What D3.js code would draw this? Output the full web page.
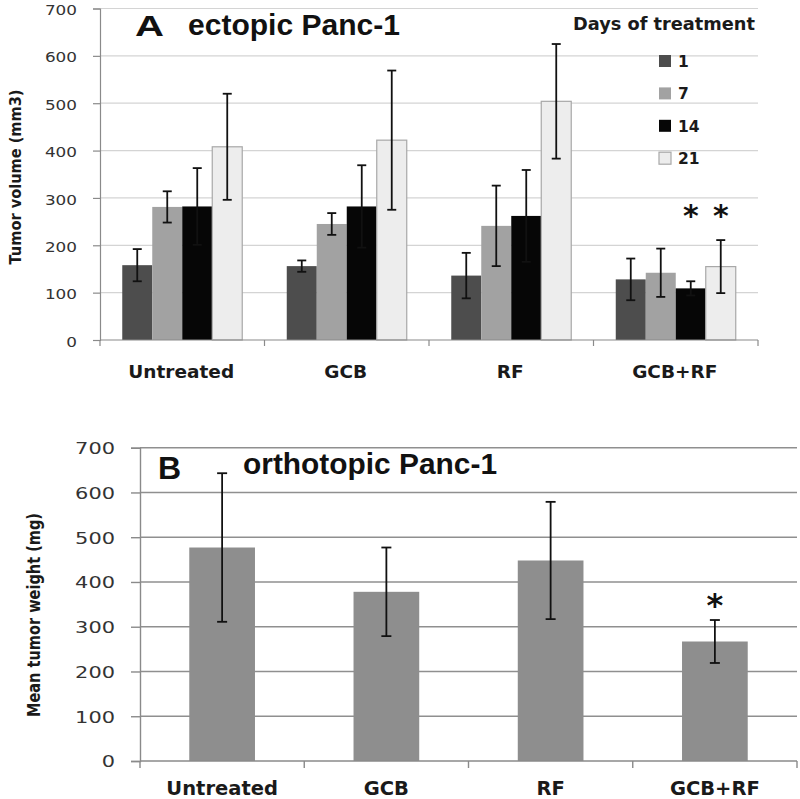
<!DOCTYPE html>
<html>
<head>
<meta charset="utf-8">
<script src="https://cdn.jsdelivr.net/npm/d3@7"></script>
<style>
  html, body { margin: 0; padding: 0; background: #fff; }
  svg { display: block; }
</style>
</head>
<body>
<svg id="chart" width="800" height="799"></svg>
<script>
// ---------- DATA ----------
const categories = ["Untreated", "GCB", "RF", "GCB+RF"];
const days = ["1", "7", "14", "21"];
const volDay1  = [158, 156, 136, 128];
const errDay1  = [34, 12, 48, 44];
const volDay7  = [281, 245, 241, 142];
const errDay7  = [33, 23, 85, 51];
const volDay14 = [282, 282, 262, 109];
const errDay14 = [81, 87, 97, 15];
const volDay21 = [408, 422, 504, 155];
const errDay21 = [112, 147, 121, 56];
const weightMean = [477, 378, 448, 267];
const weightErr  = [166, 99, 131, 48];
const yTickValues = [0, 100, 200, 300, 400, 500, 600, 700];
const sigA = [{ cat: "GCB+RF", day: "14" }, { cat: "GCB+RF", day: "21" }];
const sigALevel = 272;
const sigB = ["GCB+RF"];
const sigBLevel = 362;

const volSeries = [volDay1, volDay7, volDay14, volDay21];
const errSeries = [errDay1, errDay7, errDay14, errDay21];
const dayColors = { "1": "#4d4d4d", "7": "#a2a2a2", "14": "#060606", "21": "#ededed" };
const dayStroke = { "1": "none", "7": "none", "14": "none", "21": "#a8a8a8" };

const svg = d3.select("#chart");
const tickFont = "'DejaVu Sans', Verdana, sans-serif";
const boldFont = "'DejaVu Sans', Verdana, sans-serif";
const arialFont = "'Liberation Sans', Arial, sans-serif";

// ---------- PANEL A ----------
{
  const left = 100, right = 758, top = 8.5, bottom = 340;
  const y = d3.scaleLinear().domain([0, 700]).range([bottom, top]);
  const xb = d3.scaleBand().domain(categories).range([left, right]).padding(0);
  const x1 = d3.scaleBand().domain(days).range([0, xb.bandwidth()]).paddingInner(0).paddingOuter(0.742);
  const g = svg.append("g");

  g.selectAll("line.grid").data(yTickValues.slice(1)).enter().append("line")
    .attr("x1", left).attr("x2", right)
    .attr("y1", d => y(d)).attr("y2", d => y(d))
    .attr("stroke", "#d4d4d4").attr("stroke-width", 1.2);

  g.append("text").attr("x", 135).attr("y", 36).text("A")
    .attr("font-family", arialFont).attr("font-weight", "bold").attr("font-size", 30)
    .attr("textLength", 29).attr("lengthAdjust", "spacingAndGlyphs").attr("fill", "#111");
  g.append("text").attr("x", 188).attr("y", 35).text("ectopic Panc-1")
    .attr("font-family", arialFont).attr("font-weight", "bold").attr("font-size", 29)
    .attr("textLength", 212).attr("lengthAdjust", "spacingAndGlyphs").attr("fill", "#111");

  const rows = [];
  categories.forEach((c, ci) => days.forEach((d, di) => {
    rows.push({ cat: c, day: d, v: volSeries[di][ci], e: errSeries[di][ci] });
  }));
  g.selectAll("rect.bar").data(rows).enter().append("rect")
    .attr("x", d => xb(d.cat) + x1(d.day))
    .attr("width", x1.bandwidth())
    .attr("y", d => y(d.v))
    .attr("height", d => y(0) - y(d.v))
    .attr("fill", d => dayColors[d.day])
    .attr("stroke", d => dayStroke[d.day]).attr("stroke-width", 1.2);

  const cx = d => xb(d.cat) + x1(d.day) + x1.bandwidth() / 2;
  const eb = g.selectAll("g.err").data(rows).enter().append("g")
    .attr("stroke", "#111").attr("stroke-width", 1.8);
  eb.append("line").attr("x1", cx).attr("x2", cx)
    .attr("y1", d => y(d.v + d.e)).attr("y2", d => y(d.v - d.e));
  eb.append("line").attr("x1", d => cx(d) - 4.5).attr("x2", d => cx(d) + 4.5)
    .attr("y1", d => y(d.v + d.e)).attr("y2", d => y(d.v + d.e));
  eb.append("line").attr("x1", d => cx(d) - 4.5).attr("x2", d => cx(d) + 4.5)
    .attr("y1", d => y(d.v - d.e)).attr("y2", d => y(d.v - d.e));

  const ya = g.append("g").attr("transform", `translate(${left},0)`)
    .call(d3.axisLeft(y).tickValues(yTickValues).tickSize(7).tickPadding(16));
  ya.select(".domain").attr("stroke", "#8a8a8a").attr("stroke-width", 1.2);
  ya.selectAll(".tick line").attr("stroke", "#8a8a8a").attr("stroke-width", 1.2);
  ya.selectAll(".tick text")
    .attr("font-family", tickFont).attr("font-size", 14.5).attr("fill", "#333")
    .attr("dy", "0.42em")
    .attr("textLength", d => String(d).length * 10.7).attr("lengthAdjust", "spacingAndGlyphs");

  g.append("line").attr("x1", left).attr("x2", right).attr("y1", bottom).attr("y2", bottom)
    .attr("stroke", "#8a8a8a").attr("stroke-width", 1.2);
  const bounds = categories.map(c => xb(c)).concat([right]);
  g.selectAll("line.xt").data(bounds).enter().append("line")
    .attr("x1", d => d).attr("x2", d => d).attr("y1", bottom).attr("y2", bottom + 6)
    .attr("stroke", "#8a8a8a").attr("stroke-width", 1.2);
  g.selectAll("text.xl").data(categories).enter().append("text")
    .attr("x", d => xb(d) + xb.bandwidth() / 2 - 1).attr("y", 378)
    .attr("text-anchor", "middle").text(d => d)
    .attr("font-family", boldFont).attr("font-weight", "bold").attr("font-size", 18.5).attr("fill", "#1a1a1a");

  g.append("text").attr("transform", "translate(21,177) rotate(-90)")
    .attr("text-anchor", "middle").text("Tumor volume (mm3)")
    .attr("font-family", boldFont).attr("font-weight", "bold").attr("font-size", 16)
    .attr("textLength", 175).attr("lengthAdjust", "spacingAndGlyphs").attr("fill", "#1a1a1a");

  g.append("text").attr("x", 573).attr("y", 30).text("Days of treatment")
    .attr("font-family", boldFont).attr("font-weight", "bold").attr("font-size", 18.5)
    .attr("textLength", 182).attr("lengthAdjust", "spacingAndGlyphs").attr("fill", "#1a1a1a");
  const lg = g.selectAll("g.leg").data(days).enter().append("g")
    .attr("transform", (d, i) => `translate(659,${61 + i * 32.4})`);
  lg.append("rect").attr("x", 0).attr("y", -6).attr("width", 12).attr("height", 12)
    .attr("fill", d => dayColors[d]).attr("stroke", d => dayStroke[d]).attr("stroke-width", 1.2);
  lg.append("text").attr("x", 19).attr("y", 6).text(d => d)
    .attr("font-family", boldFont).attr("font-weight", "bold").attr("font-size", 15.5).attr("fill", "#1a1a1a");

  g.selectAll("text.sig").data(sigA).enter().append("text")
    .attr("x", d => xb(d.cat) + x1(d.day) + x1.bandwidth() / 2)
    .attr("y", d => y(sigALevel) + 15)
    .attr("text-anchor", "middle").text("*")
    .attr("font-family", boldFont).attr("font-weight", "bold").attr("font-size", 30).attr("fill", "#111");
}

// ---------- PANEL B ----------
{
  const left = 140, right = 797, top = 447.7, bottom = 761;
  const y = d3.scaleLinear().domain([0, 700]).range([bottom, top]);
  const xb = d3.scaleBand().domain(categories).range([left, right]).padding(0);
  const x = d3.scaleBand().domain(categories).range([left, right]).paddingInner(0.6).paddingOuter(0.3);
  const g = svg.append("g");

  g.selectAll("line.grid").data(yTickValues.slice(1)).enter().append("line")
    .attr("x1", left).attr("x2", right)
    .attr("y1", d => y(d)).attr("y2", d => y(d))
    .attr("stroke", "#8f8f8f").attr("stroke-width", 1.4);

  const rows = categories.map((c, i) => ({ cat: c, v: weightMean[i], e: weightErr[i] }));
  g.selectAll("rect.bar").data(rows).enter().append("rect")
    .attr("x", d => x(d.cat)).attr("width", x.bandwidth())
    .attr("y", d => y(d.v)).attr("height", d => y(0) - y(d.v))
    .attr("fill", "#8e8e8e");

  g.append("text").attr("x", 158).attr("y", 479).text("B")
    .attr("font-family", arialFont).attr("font-weight", "bold").attr("font-size", 32).attr("fill", "#111");
  g.append("text").attr("x", 243).attr("y", 474).text("orthotopic Panc-1")
    .attr("font-family", arialFont).attr("font-weight", "bold").attr("font-size", 29)
    .attr("textLength", 254).attr("lengthAdjust", "spacingAndGlyphs").attr("fill", "#111");

  const cx = d => x(d.cat) + x.bandwidth() / 2;
  const eb = g.selectAll("g.err").data(rows).enter().append("g")
    .attr("stroke", "#111").attr("stroke-width", 1.8);
  eb.append("line").attr("x1", cx).attr("x2", cx)
    .attr("y1", d => y(d.v + d.e)).attr("y2", d => y(d.v - d.e));
  eb.append("line").attr("x1", d => cx(d) - 5).attr("x2", d => cx(d) + 5)
    .attr("y1", d => y(d.v + d.e)).attr("y2", d => y(d.v + d.e));
  eb.append("line").attr("x1", d => cx(d) - 5).attr("x2", d => cx(d) + 5)
    .attr("y1", d => y(d.v - d.e)).attr("y2", d => y(d.v - d.e));

  const ya = g.append("g").attr("transform", `translate(${left},0)`)
    .call(d3.axisLeft(y).tickValues(yTickValues).tickSize(9).tickPadding(16));
  ya.select(".domain").attr("stroke", "#8a8a8a").attr("stroke-width", 1.4);
  ya.selectAll(".tick line").attr("stroke", "#8a8a8a").attr("stroke-width", 1.4);
  ya.selectAll(".tick text")
    .attr("font-family", tickFont).attr("font-size", 15.5).attr("fill", "#333")
    .attr("dy", "0.38em")
    .attr("textLength", d => String(d).length * 13.3).attr("lengthAdjust", "spacingAndGlyphs");

  g.append("line").attr("x1", left).attr("x2", right).attr("y1", bottom).attr("y2", bottom)
    .attr("stroke", "#8a8a8a").attr("stroke-width", 1.4);
  const bounds = categories.map(c => xb(c)).concat([right]);
  g.selectAll("line.xt").data(bounds).enter().append("line")
    .attr("x1", d => d).attr("x2", d => d).attr("y1", bottom).attr("y2", bottom + 7)
    .attr("stroke", "#8a8a8a").attr("stroke-width", 1.4);
  g.selectAll("text.xl").data(categories).enter().append("text")
    .attr("x", d => xb(d) + xb.bandwidth() / 2).attr("y", 795)
    .attr("text-anchor", "middle").text(d => d)
    .attr("font-family", boldFont).attr("font-weight", "bold").attr("font-size", 19.5).attr("fill", "#1a1a1a");

  g.append("text").attr("transform", "translate(40,615) rotate(-90)")
    .attr("text-anchor", "middle").text("Mean tumor weight (mg)")
    .attr("font-family", boldFont).attr("font-weight", "bold").attr("font-size", 17.5)
    .attr("textLength", 204).attr("lengthAdjust", "spacingAndGlyphs").attr("fill", "#1a1a1a");

  g.selectAll("text.sig").data(sigB).enter().append("text")
    .attr("x", d => x(d) + x.bandwidth() / 2)
    .attr("y", y(sigBLevel) + 17)
    .attr("text-anchor", "middle").text("*")
    .attr("font-family", boldFont).attr("font-weight", "bold").attr("font-size", 32).attr("fill", "#111");
}
</script>
</body>
</html>
